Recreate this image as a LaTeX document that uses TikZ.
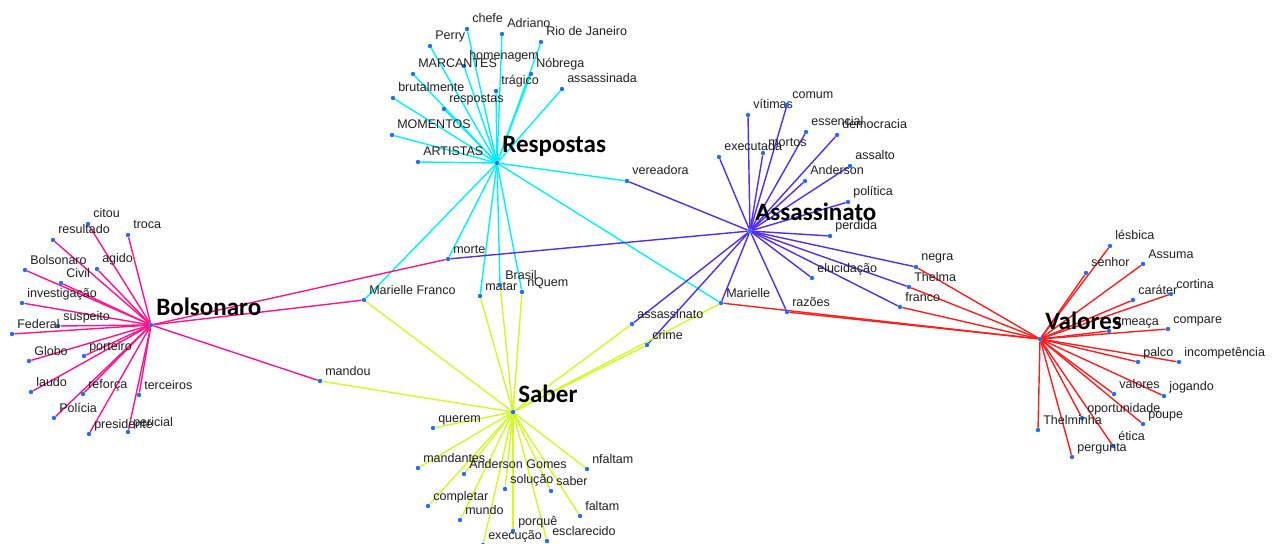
\documentclass[tikz,border=0pt]{standalone}
\usepackage{fontspec}
\setmainfont{Liberation Sans}
\newfontfamily\hubfont{Carlito}
\usetikzlibrary{backgrounds}

\definecolor{dotblue}{RGB}{30,110,255}
\definecolor{wordgray}{RGB}{30,30,30}
\definecolor{respcol}{RGB}{0,240,255}
\definecolor{assascol}{RGB}{85,45,240}
\definecolor{bolsocol}{RGB}{255,20,140}
\definecolor{valorcol}{RGB}{255,30,30}
\definecolor{sabercol}{RGB}{210,248,40}

\begin{document}
\begin{tikzpicture}[
  x = 0.025cm, y = -0.025cm,
  every node/.style = {inner sep = 0},
  dot/.style = {circle, fill = dotblue, minimum size = 1.1mm},
  word/.style = {anchor = base west, text = wordgray,
                 font = \fontsize{8.9}{10}\selectfont},
  hub/.style = {anchor = base west, text = black,
                font = \hubfont\bfseries\fontsize{17.8}{20}\selectfont},
  edge/.style = {line width = 1pt},
  ]
  \useasboundingbox (0,0) rectangle (1273,544);

  % leaves
  \foreach \n/\x/\y/\t in {
      chefe/467/29/chefe, adriano/502/34/Adriano, rio/541/42/Rio de Janeiro,
      perry/430/46/Perry, homenagem/464/66/homenagem, marcantes/413/74/MARCANTES,
      nobrega/531/74/Nóbrega, tragico/496/91/trágico, assassinada/562/89/assassinada,
      brutalmente/393/98/brutalmente, respostas/444/109/respostas,
      momentos/392/135/MOMENTOS, artistas/418/162/ARTISTAS,
      vitimas/748/115/vítimas, comum/787/105/comum, essencial/806/132/essencial,
      democracia/837/135/democracia, executada/719/157/executada, mortos/763/153/mortos,
      assalto/850/166/assalto, anderson/805/181/Anderson, politica/848/202/política,
      perdida/830/236/perdida, vereadora/627/181/vereadora, negra/916/267/negra,
      elucidacao/812/278/elucidação, thelma/909/287/Thelma, franco/900/307/franco,
      razoes/787/312/razões, marielle/721/303/Marielle, assassinato/632/324/assassinato,
      crime/647/345/crime, morte/448/259/morte, mfranco/364/300/Marielle Franco,
      matar/480/296/matar, brasil/500/285/Brasil, nquem/522/292/nQuem,
      citou/88/224/citou, resultado/53/240/resultado, troca/128/235/troca,
      bolsonaro/25/270/Bolsonaro, agido/97/269/agido, civil/61/283/Civil,
      investigacao/22/303/investigação, suspeito/58/326/suspeito, federal/12/334/Federal,
      globo/29/361/Globo, porteiro/84/356/porteiro, laudo/31/392/laudo,
      reforca/83/394/reforça, terceiros/139/395/terceiros, policia/54/418/Polícia,
      presidente/89/434/presidente, pericial/128/432/pericial, mandou/320/381/mandou,
      querem/433/428/querem, mandantes/418/468/mandantes, andersong/464/474/Anderson Gomes,
      nfaltam/587/469/nfaltam, solucao/505/489/solução, saber/551/491/saber,
      completar/428/506/completar, mundo/460/520/mundo, faltam/580/516/faltam,
      porque/513/531/porquê, execucao/483/545/execução, esclarecido/547/541/esclarecido,
      lesbica/1110/246/lésbica, senhor/1086/273/senhor, assuma/1143/264/Assuma,
      carater/1133/300/caráter, cortina/1171/294/cortina, compare/1168/329/compare,
      ameaca/1109/331/ameaça, palco/1138/362/palco, incompetencia/1179/362/incompetência,
      valores/1114/394/valores, jogando/1164/396/jogando, oportunidade/1082/418/oportunidade,
      poupe/1143/424/poupe, thelminha/1038/430/Thelminha, etica/1113/446/ética,
      pergunta/1072/457/pergunta}
  {
    \node[dot] (\n) at (\x,\y) {};
    \node[word] (\n-t) at ([shift={(5,-6)}]\n) {\t};
  }

  % hubs
  \foreach \n/\x/\y/\t in {
      resp-hub/497/163/Respostas, assas-hub/750/231/Assassinato,
      bolso-hub/151/325/Bolsonaro, valor-hub/1040/339/Valores,
      saber-hub/513/412/Saber}
  {
    \node[dot] (\n) at (\x,\y) {};
    \node[hub] (\n-t) at ([shift={(5,-10)}]\n) {\t};
  }

  \begin{pgfonlayer}{background}
    \foreach \n in {chefe, adriano, rio, perry, homenagem, marcantes, nobrega,
        tragico, assassinada, brutalmente, respostas, momentos, artistas,
        vereadora, morte, mfranco, matar, brasil, nquem, marielle}
      \draw[edge, respcol] (resp-hub) -- (\n);
    \foreach \n in {vitimas, comum, essencial, democracia, executada, mortos,
        assalto, anderson, politica, perdida, vereadora, negra, elucidacao,
        thelma, franco, razoes, marielle, assassinato, crime, morte}
      \draw[edge, assascol] (assas-hub) -- (\n);
    \foreach \n in {citou, resultado, troca, bolsonaro, agido, civil,
        investigacao, suspeito, federal, globo, porteiro, laudo, reforca,
        terceiros, policia, presidente, pericial, morte, mfranco, mandou}
      \draw[edge, bolsocol] (bolso-hub) -- (\n);
    \foreach \n in {lesbica, senhor, assuma, carater, cortina, compare, ameaca,
        palco, incompetencia, valores, jogando, oportunidade, poupe, thelminha,
        etica, pergunta, negra, thelma, franco, razoes, marielle}
      \draw[edge, valorcol] (valor-hub) -- (\n);
    \foreach \n in {querem, mandantes, andersong, nfaltam, solucao, saber,
        completar, mundo, faltam, porque, execucao, esclarecido, mfranco,
        mandou, matar, brasil, nquem, assassinato, crime, marielle}
      \draw[edge, sabercol] (saber-hub) -- (\n);
  \end{pgfonlayer}
\end{tikzpicture}
\end{document}
